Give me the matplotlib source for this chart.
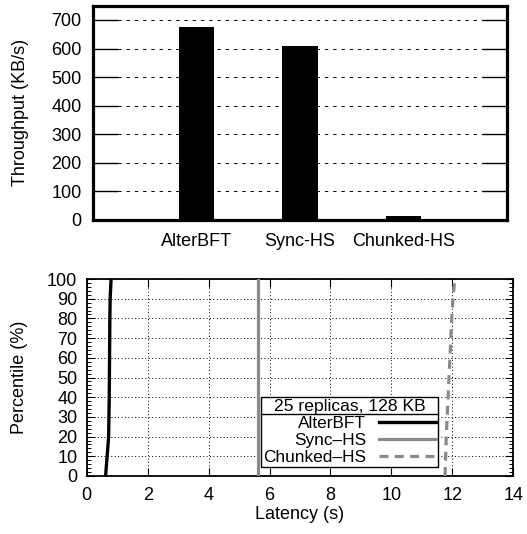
import matplotlib
matplotlib.use("Agg")
import matplotlib.pyplot as plt
from matplotlib.lines import Line2D
from matplotlib.ticker import MultipleLocator

plt.rcParams['font.family'] = ['Liberation Sans', 'DejaVu Sans']

# ---- data ----
systems = ["AlterBFT", "Sync-HS", "Chunked-HS"]
throughput = [675, 609, 15]          # KB/s

percentiles = [0, 10, 20, 30, 40, 50, 60, 70, 80, 90, 100]
lat_alterbft = [0.62, 0.67, 0.72, 0.73, 0.74, 0.745, 0.75, 0.755, 0.76, 0.77, 0.80]
lat_synchs = [5.62, 5.62, 5.62, 5.62, 5.62, 5.62, 5.62, 5.62, 5.62, 5.62, 5.62]
lat_chunked = [11.76, 11.78, 11.80, 11.83, 11.86, 11.89, 11.92, 11.95, 11.98, 12.02, 12.08]
legend_labels = ["AlterBFT", "Sync\u2013HS", "Chunked\u2013HS"]
legend_title = "25 replicas, 128 KB"

W, H = 527, 534
fig = plt.figure(figsize=(W / 100, H / 100), dpi=100)

# ---- top: throughput bars ----
ax1 = fig.add_axes([93.3 / W, 1 - 220 / H, 413.4 / W, 214.3 / H])
xpos = list(range(1, len(systems) + 1))
ax1.bar(xpos, throughput, width=0.34, color='black', zorder=3)
ax1.set_xlim(0, 4)
ax1.set_ylim(0, 750)
ax1.set_yticks(range(0, 701, 100))
ax1.set_xticks(xpos)
ax1.set_xticklabels(systems, fontsize=13)
ax1.tick_params(axis='x', length=0, pad=9.5)
ax1.tick_params(axis='y', direction='in', length=18, width=1.0, left=True, right=True,
                labelsize=13, pad=8.4)
ax1.yaxis.grid(True, color='black', linewidth=0.7, linestyle=(0, (3.5, 5)))
ax1.set_axisbelow(True)
for s in ax1.spines.values():
    s.set_linewidth(2.3)
ax1.set_ylabel("Throughput (KB/s)", fontsize=13, va='center')
ax1.yaxis.set_label_coords(-0.177, 0.5)

# ---- bottom: latency CDF ----
ax2 = fig.add_axes([86.7 / W, 1 - 476 / H, 426.6 / W, 197 / H])
gray = '#8a8a8a'
h1, = ax2.plot(lat_alterbft, percentiles, color='black', linewidth=2.4, zorder=4)
h2, = ax2.plot(lat_synchs, percentiles, color=gray, linewidth=2.3, zorder=4)
h3, = ax2.plot(lat_chunked, percentiles, color=gray, linewidth=2.3,
               linestyle=(0, (2.8, 2.0)), zorder=4)
ax2.set_xlim(0, 14)
ax2.set_ylim(0, 100)
ax2.set_xticks(range(0, 15, 2))
ax2.set_yticks(range(0, 101, 10))
ax2.yaxis.set_minor_locator(MultipleLocator(2))
ax2.tick_params(axis='both', which='major', direction='in', length=5.5, width=0.8,
                top=True, right=True, labelsize=13)
ax2.tick_params(axis='y', which='minor', direction='in', length=3, width=0.7,
                left=True, right=True)
ax2.tick_params(axis='x', pad=7.7)
ax2.tick_params(axis='y', pad=6.8)
ax2.grid(True, which='major', color='black', linewidth=0.7, linestyle=(0, (1, 2.5)))
ax2.set_axisbelow(True)
for s in ax2.spines.values():
    s.set_linewidth(1.3)
ax2.set_ylabel("Percentile (%)", fontsize=13, va='center')
ax2.yaxis.set_label_coords(-0.1575, 0.5)
ax2.set_xlabel("Latency (s)", fontsize=13, va='center')
ax2.xaxis.set_label_coords(0.5, -0.197)

leg = ax2.legend([h1, h2, h3], legend_labels, title=legend_title,
                 loc='lower left', bbox_to_anchor=(0.4086, 0.047),
                 borderaxespad=0, frameon=True, fancybox=False, framealpha=1,
                 edgecolor='black', fontsize=12.4, title_fontsize=12.6,
                 markerfirst=False, handlelength=3.3, handletextpad=0.75,
                 borderpad=0.12, labelspacing=0.1)
leg.get_frame().set_linewidth(1.0)
leg.set_zorder(10)

fig.canvas.draw()
lb = leg.get_window_extent()
tb = leg.get_title().get_window_extent()
inv = fig.transFigure.inverted()
ysep = tb.y0
p0 = inv.transform((lb.x0, ysep))
p1 = inv.transform((lb.x1, ysep))
sep = Line2D([p0[0], p1[0]], [p0[1], p1[1]], transform=fig.transFigure,
             color='black', linewidth=1.0, zorder=11)
fig.add_artist(sep)

fig.savefig("out.png", dpi=100)
